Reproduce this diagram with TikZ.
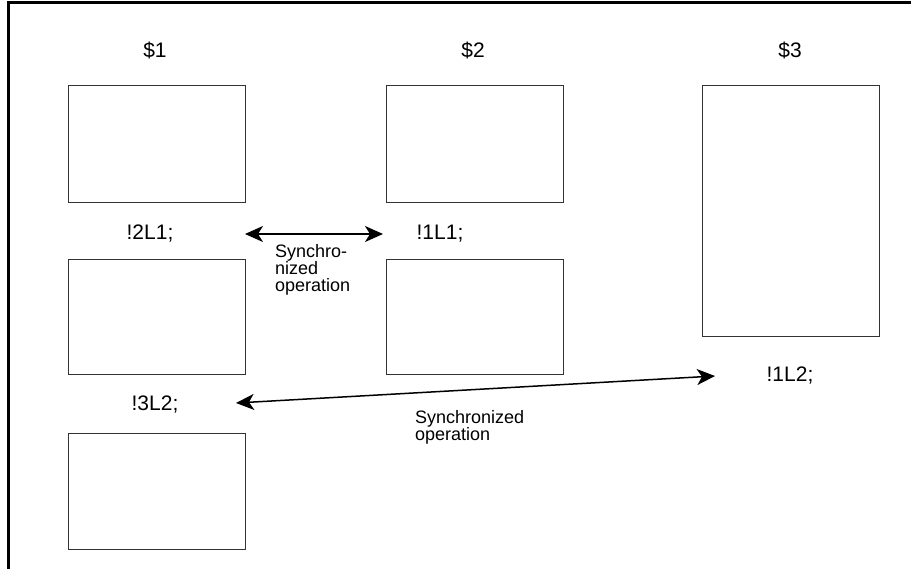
\documentclass[tikz,border=0pt]{standalone}
\usepackage{fontspec}
\setmainfont{Liberation Sans}
\usetikzlibrary{arrows.meta}
\begin{document}
\begin{tikzpicture}[x=1pt,y=-1pt,
  blk/.style={draw=black!80,line width=1pt,inner sep=0pt,anchor=north west},
  lbl/.style={font=\fontsize{21}{24}\selectfont,inner sep=0pt},
  note/.style={font=\fontsize{18}{17}\selectfont,inner sep=0pt,align=left,anchor=north west},
  sync/.style={line width=1.5pt,{Stealth[length=18pt,width=16pt,inset=5pt]}-{Stealth[length=18pt,width=16pt,inset=5pt]}}]
\useasboundingbox (0,0) rectangle (911,569);
\draw[line width=3pt] (911,3) -- (8,3) -- (8,569);
% column 1
\node[lbl] (t1) at (155,50) {\$1};
\node[blk,minimum width=177pt,minimum height=117pt] (a1) at (68,85) {};
\node[lbl] (l21) at (150,234) {!2L1;};
\node[blk,minimum width=177pt,minimum height=115pt] (a2) at (68,259) {};
\node[lbl] (l32) at (155,405) {!3L2;};
\node[blk,minimum width=177pt,minimum height=116pt] (a3) at (68,433) {};
% column 2
\node[lbl] (t2) at (473,50) {\$2};
\node[blk,minimum width=177pt,minimum height=117pt] (b1) at (386,85) {};
\node[lbl] (l11) at (440,234) {!1L1;};
\node[blk,minimum width=177pt,minimum height=115pt] (b2) at (386,259) {};
% column 3
\node[lbl] (t3) at (790,50) {\$3};
\node[blk,minimum width=177pt,minimum height=251pt] (c1) at (702,85) {};
\node[lbl] (l12) at (790,376) {!1L2;};
% arrows
\coordinate (s1a) at (245,234);
\coordinate (s1b) at (383,234);
\draw[sync] (s1a) -- (s1b);
\node[note] (n1) at (275,244) {Synchro-\\nized\\operation};
\coordinate (s2a) at (236,403);
\coordinate (s2b) at (715,376);
\draw[sync] (s2a) -- (s2b);
\node[note] (n2) at (415,410) {Synchronized\\operation};
\end{tikzpicture}
\end{document}
